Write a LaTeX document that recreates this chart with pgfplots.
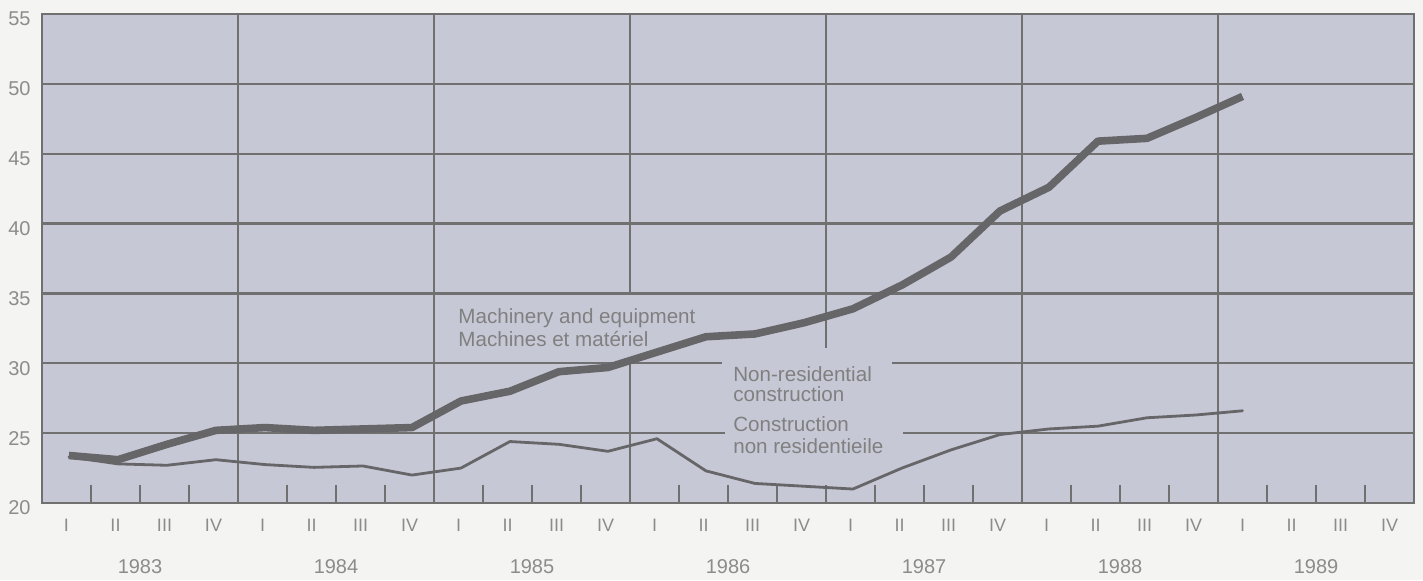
\documentclass[border=0pt]{standalone}
\usepackage{fontspec}
\setmainfont{Liberation Sans}
\usepackage{pgfplots}
\pgfplotsset{compat=1.18}

\definecolor{bgcol}{RGB}{198,200,214}
\definecolor{pagecol}{RGB}{244,244,242}
\definecolor{linegray}{RGB}{112,112,112}
\definecolor{seriesgray}{RGB}{102,102,104}
\definecolor{txtgray}{RGB}{128,128,128}
\definecolor{lblgray}{RGB}{140,140,140}

\begin{document}
\begin{tikzpicture}
% page colour round the plot
\fill[pagecol] (-21pt,-38.5pt) rectangle (690.5pt,251.5pt);
\begin{axis}[
    scale only axis,
    width=686pt, height=244.5pt,
    xmin=0, xmax=28, ymin=20, ymax=55,
    axis background/.style={fill=bgcol},
    axis line style={linegray, line width=1.2pt},
    ytick={20,25,...,55},
    xtick={0.5,1.5,...,27.5},
    xticklabels={I,II,III,IV,I,II,III,IV,I,II,III,IV,I,II,III,IV,I,II,III,IV,I,II,III,IV,I,II,III,IV},
    minor xtick={1,...,27},
    major tick length=0pt,
    minor tick length=9pt,
    tick align=inside,
    xtick pos=left, ytick pos=left,
    minor tick style={line width=1pt, linegray},
    /pgf/number format/assume math mode=true,
    ticklabel style={font=\fontsize{9}{10}\selectfont, text=lblgray},
    yticklabel style={anchor=east, xshift=-2.2pt, yshift=-2.5pt, font=\fontsize{10}{11}\selectfont},
    xticklabel style={anchor=center, yshift=-11pt},
    clip=false,
]
% grid, with the gaps left for the labels
\draw[linegray, line width=1.2pt] (axis cs:0,50) -- (axis cs:28,50);
\draw[linegray, line width=1.2pt] (axis cs:0,45) -- (axis cs:28,45);
\draw[linegray, line width=1.2pt] (axis cs:0,40) -- (axis cs:28,40);
\draw[linegray, line width=1.2pt] (axis cs:0,35) -- (axis cs:28,35);
\draw[linegray, line width=1.2pt] (axis cs:0,30) -- (axis cs:13.88,30);
\draw[linegray, line width=1.2pt] (axis cs:17.35,30) -- (axis cs:28,30);
\draw[linegray, line width=1.2pt] (axis cs:0,25) -- (axis cs:13.94,25);
\draw[linegray, line width=1.2pt] (axis cs:17.57,25) -- (axis cs:28,25);
\draw[linegray, line width=1.2pt] (axis cs:4,20) -- (axis cs:4,55);
\draw[linegray, line width=1.2pt] (axis cs:8,20) -- (axis cs:8,55);
\draw[linegray, line width=1.2pt] (axis cs:12,20) -- (axis cs:12,30);
\draw[linegray, line width=1.2pt] (axis cs:12,35) -- (axis cs:12,55);
\draw[linegray, line width=1.2pt] (axis cs:16,31.1) -- (axis cs:16,55);
\draw[linegray, line width=1.2pt] (axis cs:20,20) -- (axis cs:20,55);
\draw[linegray, line width=1.2pt] (axis cs:24,20) -- (axis cs:24,55);

% Non-residential construction
\addplot[seriesgray, line width=1.4pt, line join=round, line cap=round] coordinates {
(0.55,23.3) (1.55,22.8) (2.55,22.7) (3.55,23.1) (4.55,22.75) (5.55,22.55) (6.55,22.65) (7.55,22.0)
(8.55,22.5) (9.55,24.4) (10.55,24.2) (11.55,23.7) (12.55,24.6) (13.55,22.3) (14.55,21.4) (15.55,21.2)
(16.55,21.0) (17.55,22.5) (18.55,23.8) (19.55,24.9) (20.55,25.3) (21.55,25.5) (22.55,26.1) (23.55,26.3)
(24.5,26.6)
};
% Machinery and equipment
\addplot[seriesgray, line width=3.8pt, line join=round] coordinates {
(0.55,23.4) (1.55,23.1) (2.55,24.2) (3.55,25.2) (4.55,25.4) (5.55,25.2) (6.55,25.3) (7.55,25.4)
(8.55,27.3) (9.55,28.0) (10.55,29.4) (11.55,29.7) (12.55,30.8) (13.55,31.9) (14.55,32.1) (15.55,32.9)
(16.55,33.9) (17.55,35.6) (18.55,37.6) (19.55,40.9) (20.55,42.6) (21.55,45.9) (22.55,46.1) (23.55,47.6)
(24.5,49.1)
};

% labels
\begin{scope}[every node/.style={anchor=base west, inner sep=0pt, text=txtgray, font=\fontsize{10.3}{12}\selectfont}]
\node at (axis cs:8.49,32.86) {Machinery and equipment};
\node at (axis cs:8.49,31.21) {Machines et matériel};
\node at (axis cs:14.1,28.71) {Non-residential};
\node at (axis cs:14.1,27.29) {construction};
\node at (axis cs:14.1,25.14) {Construction};
\node at (axis cs:14.1,23.57) {non residentieile};
\end{scope}

% years
\begin{scope}[every node/.style={anchor=center, text=lblgray, font=\fontsize{10}{12}\selectfont, yshift=-32pt}]
\node at (axis cs:2,20) {1983};
\node at (axis cs:6,20) {1984};
\node at (axis cs:10,20) {1985};
\node at (axis cs:14,20) {1986};
\node at (axis cs:18,20) {1987};
\node at (axis cs:22,20) {1988};
\node at (axis cs:26,20) {1989};
\end{scope}
\end{axis}
\end{tikzpicture}
\end{document}
